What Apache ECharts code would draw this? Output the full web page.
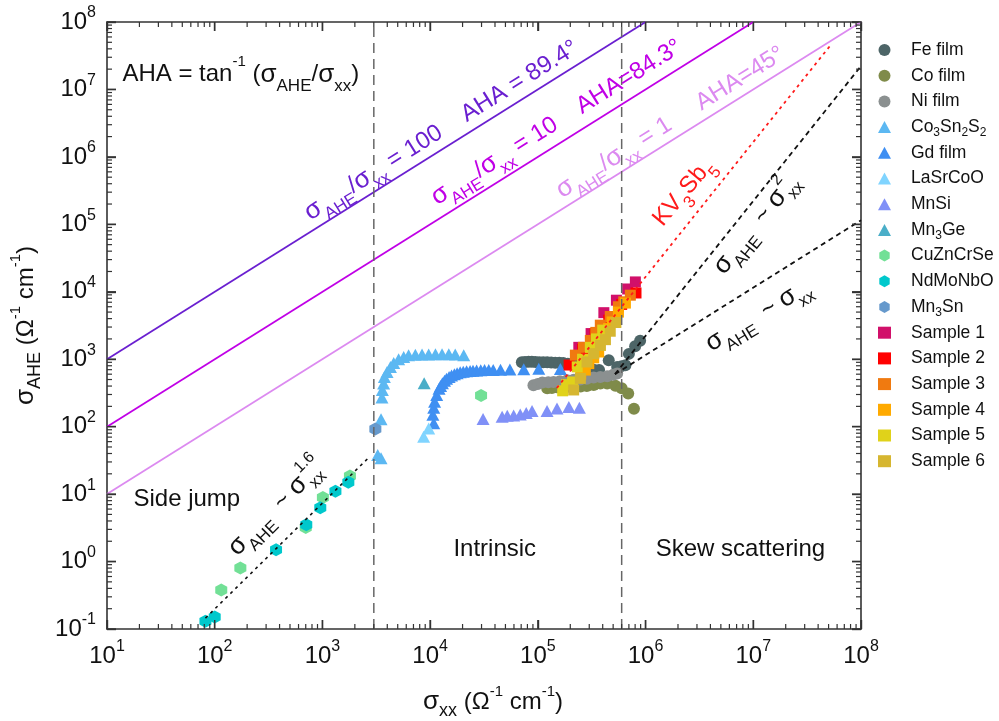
<!DOCTYPE html>
<html>
<head>
<meta charset="utf-8">
<script src="https://cdn.jsdelivr.net/npm/echarts@6/dist/echarts.min.js"></script>
<style>
  html, body { margin: 0; padding: 0; background: #fff; }
  #main { width: 999px; height: 721px; }
</style>
</head>
<body>
<div id="main"></div>
<script>
var fontFam = '"Liberation Sans", Arial, sans-serif';

// ---- data: [sigma_xx, sigma_AHE] ----
var feFilm = [[71000,900],[76000,910],[82000,915],[88000,915],[95000,910],[103000,905],[112000,900],[122000,900],[133000,895],[145000,890],[158000,885],[172000,880],[190000,860],[215000,820],[250000,780],[290000,740],[330000,700],[370000,690],[455000,965],[545000,770],[600000,790],[650000,815],[700000,1200],[800000,1560],[890000,1880]];
var coFilm = [[122000,370],[135000,375],[150000,385],[170000,390],[195000,390],[220000,392],[250000,395],[285000,400],[330000,415],[380000,435],[440000,435],[525000,405],[600000,370],[690000,310],[780000,185]];
var niFilm = [[91000,412],[100000,430],[110000,450],[125000,455],[140000,460],[160000,470],[187000,488],[215000,495],[248000,500],[285000,515],[330000,535],[380000,545],[440000,560],[500000,590],[545000,615]];
var co3Sn2S2 = [[3260,38],[3500,34],[3500,129],[3570,271],[3600,350],[3700,437],[3760,547],[3980,649],[4280,769],[4590,881],[5100,1000],[5680,1080],[6310,1145],[7290,1160],[8410,1170],[9690,1175],[11200,1180],[12900,1180],[14900,1180],[17100,1170],[20500,1150]];
var gdFilm = [[10800,112],[10600,150],[10800,190],[11000,235],[11500,295],[12100,365],[12500,400],[13000,440],[13600,480],[14200,515],[15000,545],[15800,575],[16800,600],[17800,620],[19000,640],[20300,650],[21800,662],[23500,670],[25000,675],[27000,680],[29500,685],[32000,690],[35000,692],[38500,695],[45000,700],[55000,705],[74000,710],[102000,720],[162000,715]];
var laSrCoO = [[8700,71],[9700,94]];
var mnSi = [[31000,130],[46600,140],[52000,145],[59600,147],[68600,151],[78000,160],[88300,171],[121700,171],[150600,186],[194000,196],[243000,190]];
var mn3Ge = [[8800,440]];
var cuZnCrSe = [[115,0.38],[173,0.8],[700,3.2],[1010,8.9],[1800,18.5],[29700,290]];
var ndMoNbO = [[82,0.13],[100,0.15],[371,1.5],[708,3.5],[955,6.3],[1320,11],[1740,15]];
var mn3Sn = [[3100,92]];
var sample1 = [[240000,1500],[312000,2400],[410000,4900],[536000,7500],[682000,11000],[804000,14000]];
var sample2 = [[195000,820],[260000,1400],[340000,2400],[455000,3800],[600000,6500],[815000,9600]];
var sample3 = [[223000,1150],[265000,1500],[307000,1900],[345000,2500],[380000,3200],[470000,4300],[560000,6000],[627000,7100],[722000,8900]];
var sample4 = [[250000,600],[276000,690],[297000,860],[330000,1050],[367000,1280],[410000,2000],[454000,2850],[489000,3570],[560000,5000],[650000,6800]];
var sample5 = [[170000,340],[185000,420],[210000,460],[232000,770],[260000,1000],[307000,1500],[350000,2000],[400000,2700]];
var sample6 = [[215000,350],[248000,520],[286000,910],[330000,1210],[381000,1600],[424000,1950],[470000,2600],[530000,3500]];

// guide lines
var ratio100 = [[10,1000],[1e6,1e8]];
var ratio10 = [[10,100],[1e7,1e8]];
var ratio1 = [[10,10],[1e8,1e8]];
var bound1 = [[3000,0.1],[3000,1e8]];
var bound2 = [[6e5,0.1],[6e5,1e8]];
var fitSide = [[82,0.145],[2700,35]];
var fitSq = [[5.2e5,600],[1e8,2.22e7]];
var fitLin = [[5.2e5,600],[1e8,1.15e5]];
var fitKV = [[1.5e5,375],[5.2e7,4.5e7]];

// tick values (decades and 2..9 in between)
var majorX = [], majorY = [], minorX = [], minorY = [];
for (var e = 1; e <= 8; e++) majorX.push(Math.pow(10, e));
for (var e = -1; e <= 8; e++) majorY.push(Math.pow(10, e));
for (var e = 1; e < 8; e++) for (var k = 2; k <= 9; k++) minorX.push(k * Math.pow(10, e));
for (var e = -1; e < 8; e++) for (var k = 2; k <= 9; k++) minorY.push(k * Math.pow(10, e));

// inward ticks on all four sides: [value, length, side] (0 bottom, 1 top, 2 left, 3 right)
var tickData = [];
[0, 1].forEach(function (s) {
  majorX.forEach(function (v) { tickData.push([v, 9, s]); });
  minorX.forEach(function (v) { tickData.push([v, 5, s]); });
});
[2, 3].forEach(function (s) {
  majorY.forEach(function (v) { tickData.push([v, 9, s]); });
  minorY.forEach(function (v) { tickData.push([v, 5, s]); });
});

var R = {
  n: { fontSize: 24, lineHeight: 40, fontFamily: fontFam },
  g: { fontSize: 26, lineHeight: 40, fontFamily: fontFam },
  d: { fontSize: 17, lineHeight: 16, verticalAlign: 'bottom', fontFamily: fontFam },
  u: { fontSize: 15, lineHeight: 30, verticalAlign: 'top', fontFamily: fontFam },
  an: { fontSize: 24, lineHeight: 36, fontFamily: fontFam },
  ag: { fontSize: 26, lineHeight: 36, fontFamily: fontFam },
  ad: { fontSize: 18, lineHeight: 20, verticalAlign: 'bottom', fontFamily: fontFam },
  au: { fontSize: 15, lineHeight: 22, verticalAlign: 'top', fontFamily: fontFam },
  t: { fontSize: 24, lineHeight: 34, fontFamily: fontFam },
  e: { fontSize: 16, lineHeight: 9, verticalAlign: 'top', fontFamily: fontFam },
  s: { fontSize: 12, lineHeight: 10, verticalAlign: 'bottom', fontFamily: fontFam }
};

var axisColor = '#333';
function tickFmt(v) {
  return '{t|10}{e|' + Math.round(Math.log10(v)) + '}';
}
function makeAxis(dim, pos) {
  return {
    type: 'log',
    min: dim === 'x' ? 10 : 0.1, max: 1e8,
    position: pos, gridIndex: 0,
    axisLine: { show: true, lineStyle: { color: axisColor, width: 1.6 } },
    axisTick: { show: true, inside: true, length: 9, lineStyle: { color: axisColor, width: 1.4 } },
    minorTick: { show: false },
    axisLabel: { show: false },
    splitLine: { show: false },
    minorSplitLine: { show: false }
  };
}

var xMain = makeAxis('x', 'bottom');
xMain.axisLabel = { show: true, customValues: majorX, formatter: tickFmt, rich: R, margin: 10, color: '#111' };
xMain.name = '{ag|σ}{ad|xx}{an| (Ω}{au|-1}{an| cm}{au|-1}{an|)}';
xMain.nameLocation = 'middle';
xMain.nameGap = 55;
xMain.nameMoveOverlap = false;
xMain.nameTextStyle = { rich: R, color: '#111', padding: [0, 0, 0, 18] };

var yMain = makeAxis('y', 'left');
yMain.axisLabel = { show: true, customValues: majorY, formatter: tickFmt, rich: R, margin: 11, color: '#111' };
yMain.name = '{ag|σ}{ad|AHE}{an| (Ω}{au|-1}{an| cm}{au|-1}{an|)}';
yMain.nameLocation = 'middle';
yMain.nameGap = 63;
yMain.nameMoveOverlap = false;
yMain.nameTextStyle = { rich: R, color: '#111' };

function sc(name, data, symbol, size, color) {
  return { name: name, type: 'scatter', data: data, symbol: symbol, symbolSize: size,
           itemStyle: { color: color, opacity: 1 }, z: 2 };
}
function ln(data, color, width, type) {
  return { type: 'line', data: data, symbol: 'none', z: 5,
           lineStyle: { color: color, width: width, type: type } };
}
var hex = 'path://M0,-10L8.66,-5L8.66,5L0,10L-8.66,5L-8.66,-5Z';
var tri = [13, 12];

var tickSeries = {
  type: 'custom', z: 6, clip: false, data: tickData,
  renderItem: function (params, api) {
    var v = api.value(0), len = api.value(1), side = api.value(2);
    var p, q;
    if (side === 0) { p = api.coord([v, 0.1]); q = [p[0], p[1] - len]; }
    else if (side === 1) { p = api.coord([v, 1e8]); q = [p[0], p[1] + len]; }
    else if (side === 2) { p = api.coord([10, v]); q = [p[0] + len, p[1]]; }
    else { p = api.coord([1e8, v]); q = [p[0] - len, p[1]]; }
    return { type: 'line', shape: { x1: p[0], y1: p[1], x2: q[0], y2: q[1] },
             style: { stroke: axisColor, lineWidth: len > 6 ? 1.4 : 1.2 } };
  }
};

var legendNames = ['Fe film','Co film','Ni film','Co3Sn2S2','Gd film','LaSrCoO','MnSi','Mn3Ge',
                   'CuZnCrSe','NdMoNbO','Mn3Sn','Sample 1','Sample 2','Sample 3','Sample 4','Sample 5','Sample 6'];
var legendRich = { 'Co3Sn2S2': 'Co{s|3}Sn{s|2}S{s|2}', 'Mn3Ge': 'Mn{s|3}Ge', 'Mn3Sn': 'Mn{s|3}Sn' };

var chart = echarts.init(document.getElementById('main'));
chart.setOption({
  animation: false,
  textStyle: { fontFamily: fontFam },
  grid: { left: 107, right: 138, top: 22, bottom: 92, containLabel: false, outerBoundsMode: 'none' },
  xAxis: [xMain, makeAxis('x', 'top')],
  yAxis: [yMain, makeAxis('y', 'right')],
  legend: {
    data: legendNames, orient: 'vertical', left: 878, top: 38, padding: 0,
    itemWidth: 13, itemHeight: 12, itemGap: 1.7, selectedMode: false,
    formatter: function (n) { return legendRich[n] || n; },
    textStyle: { fontSize: 17.5, lineHeight: 24, color: '#111', fontFamily: fontFam,
                 padding: [0, 0, 0, 15], rich: R }
  },
  series: [
    ln(ratio100, '#6a1fd0', 1.8, 'solid'),
    ln(ratio10, '#c000e6', 1.8, 'solid'),
    ln(ratio1, '#dc8af0', 1.8, 'solid'),
    sc('Fe film', feFilm, 'circle', 12, '#4d6567'),
    sc('Co film', coFilm, 'circle', 12, '#7f8b4a'),
    sc('Ni film', niFilm, 'circle', 12, '#8b9090'),
    sc('Co3Sn2S2', co3Sn2S2, 'triangle', tri, '#5cb8f2'),
    sc('Gd film', gdFilm, 'triangle', tri, '#3f8ff2'),
    sc('LaSrCoO', laSrCoO, 'triangle', tri, '#80d4ff'),
    sc('MnSi', mnSi, 'triangle', tri, '#8090f7'),
    sc('Mn3Ge', mn3Ge, 'triangle', tri, '#4aaec8'),
    sc('CuZnCrSe', cuZnCrSe, hex, [12, 13], '#72e096'),
    sc('NdMoNbO', ndMoNbO, hex, [12, 13], '#00c8cc'),
    sc('Mn3Sn', mn3Sn, hex, [12, 13], '#6699cc'),
    sc('Sample 1', sample1, 'rect', 11, '#d1106a'),
    sc('Sample 2', sample2, 'rect', 11, '#ff0000'),
    sc('Sample 3', sample3, 'rect', 11, '#f07a10'),
    sc('Sample 4', sample4, 'rect', 11, '#ffaa00'),
    sc('Sample 5', sample5, 'rect', 11, '#e0d21a'),
    sc('Sample 6', sample6, 'rect', 11, '#d6b630'),
    ln(bound1, '#666', 1.5, [10, 6]),
    ln(bound2, '#666', 1.5, [10, 6]),
    ln(fitSide, '#111', 1.6, [3, 4]),
    ln(fitSq, '#111', 1.8, [5, 4]),
    ln(fitLin, '#111', 1.8, [5, 4]),
    ln(fitKV, '#ff1a1a', 1.8, [3, 4]),
    tickSeries
  ]
});

// ---- annotations placed in data coordinates ----
function pt(x, y) { return chart.convertToPixel({ xAxisIndex: 0, yAxisIndex: 0 }, [x, y]); }
function txt(x, y, text, rot, color, align) {
  var p = pt(x, y);
  return { type: 'text', x: p[0], y: p[1], rotation: rot * Math.PI / 180, silent: true, z: 10,
           style: { text: text, rich: R, fill: color, font: '24px ' + fontFam,
                    align: align || 'center', verticalAlign: 'middle' } };
}
// label with a stacked superscript/subscript after the last sigma
function stacked(x, y, rot, sup) {
  var p = pt(x, y);
  return { type: 'group', x: p[0], y: p[1], rotation: rot * Math.PI / 180, silent: true, z: 10,
    children: [
      { type: 'text', x: 0, y: 0, style: { text: '{g|σ}{d|AHE}{n|  ~ }{g|σ}', rich: R, fill: '#111',
        font: '24px ' + fontFam, align: 'right', verticalAlign: 'middle' } },
      { type: 'text', x: 2, y: 10, style: { text: 'xx', fill: '#111', font: '17px ' + fontFam,
        align: 'left', verticalAlign: 'middle' } },
      { type: 'text', x: 2, y: -12, style: { text: sup, fill: '#111', font: '16px ' + fontFam,
        align: 'left', verticalAlign: 'middle' } }
    ] };
}

chart.setOption({
  graphic: [
    txt(13.9, 1.67e7, '{n|AHA = tan}{u|-1}{n| (}{g|σ}{d|AHE}{n|/}{g|σ}{d|xx}{n|)}', 0, '#111', 'left'),
    txt(12700, 2.47e6, '{g|σ}{d|AHE}{n|/}{g|σ}{d|xx}{n| = 100    AHA = 89.4°}', 32, '#6a1fd0'),
    txt(149000, 3.25e6, '{g|σ}{d|AHE}{n|/}{g|σ}{d|xx}{n| = 10    AHA=84.3°}', 32, '#c000e6'),
    txt(1.7e6, 3.25e6, '{g|σ}{d|AHE}{n|/}{g|σ}{d|xx}{n| = 1     AHA=45°}', 32, '#dc8af0'),
    txt(2.25e6, 2.98e5, '{n|KV}{d|3}{n|Sb}{d|5}', 50, '#ff1a1a'),
    stacked(1.85e7, 2.98e5, 51, '2'),
    txt(1.11e7, 4490, '{g|σ}{d|AHE}{n|  ~ }{g|σ}{d|xx}', 31, '#111'),
    stacked(669, 16.1, 45, '1.6'),
    txt(17.6, 8.3, '{n|Side jump}', 0, '#111', 'left'),
    txt(39800, 1.5, '{n|Intrinsic}', 0, '#111'),
    txt(7.6e6, 1.5, '{n|Skew scattering}', 0, '#111')
  ]
});
</script>
</body>
</html>
